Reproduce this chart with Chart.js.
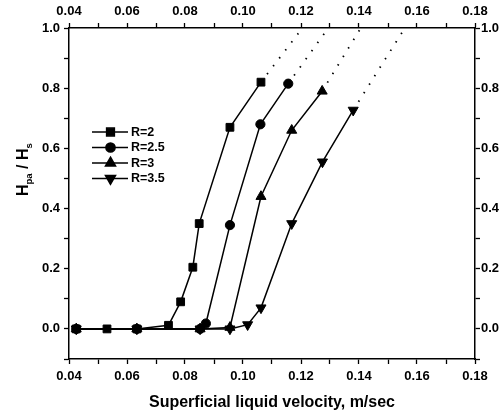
<!DOCTYPE html>
<html>
<head>
<meta charset="utf-8">
<script src="https://cdn.jsdelivr.net/npm/chart.js@4/dist/chart.umd.min.js"></script>
<style>
  html, body { margin: 0; padding: 0; background: #fff; }
  #wrap { width: 503px; height: 412px; }
</style>
</head>
<body>
<div id="wrap"><canvas id="chart" width="503" height="412"></canvas></div>
<script>
'use strict';

// series (x = superficial liquid velocity, y = Hpa/Hs)
var seriesNames = ['R=2', 'R=2.5', 'R=3', 'R=3.5'];

var velR2 = [0.0425, 0.0531, 0.0634, 0.0743, 0.0785, 0.0827, 0.0849, 0.0955, 0.1062];
var hR2 = [0, 0, 0, 0.012, 0.09, 0.205, 0.35, 0.67, 0.82];

var velR25 = [0.0425, 0.0634, 0.0852, 0.0872, 0.0955, 0.1060, 0.1156];
var hR25 = [0, 0, 0, 0.018, 0.345, 0.68, 0.815];

var velR3 = [0.0425, 0.0634, 0.0852, 0.0955, 0.1062, 0.1168, 0.1273];
var hR3 = [0, 0, 0, 0.005, 0.44, 0.66, 0.79];

var velR35 = [0.0425, 0.0634, 0.0852, 0.0955, 0.1016, 0.1062, 0.1168, 0.1274, 0.1380];
var hR35 = [0, 0, 0, 0, 0.014, 0.07, 0.35, 0.555, 0.727];

// where the dotted extrapolation of each series meets the top of the plot
var dottedEndX = [0.1205, 0.1294, 0.1406, 0.1558];
var dottedEndY = [1.0, 1.0, 1.0, 1.0];

var xTicks = { min: 0.04, max: 0.18, step: 0.01 };
var yTicks = { min: -0.1, max: 1.0, step: 0.1 };

var allX = [velR2, velR25, velR3, velR35];
var allY = [hR2, hR25, hR3, hR35];
var markers = [
  { style: 'rect', radius: 5.5, rotation: 0 },
  { style: 'circle', radius: 4.6, rotation: 0 },
  { style: 'triangle', radius: 5.8, rotation: 0 },
  { style: 'triangle', radius: 5.8, rotation: 180 }
];

var FONT = '"Liberation Sans", Arial, sans-serif';

function toPoints(xs, ys) {
  var pts = [];
  for (var i = 0; i < xs.length; i++) {
    pts.push({ x: xs[i], y: ys[i] });
  }
  return pts;
}

var datasets = [];
for (var i = 0; i < seriesNames.length; i++) {
  var last = allX[i].length - 1;
  datasets.push({
    label: seriesNames[i] + ' extrapolated',
    data: [
      { x: allX[i][last], y: allY[i][last] },
      { x: dottedEndX[i], y: dottedEndY[i] }
    ],
    borderColor: '#000',
    borderWidth: 1.8,
    borderDash: [1.5, 8.5],
    pointRadius: 0,
    fill: false
  });
}
for (var i = 0; i < seriesNames.length; i++) {
  datasets.push({
    label: seriesNames[i],
    data: toPoints(allX[i], allY[i]),
    borderColor: '#000',
    backgroundColor: '#000',
    borderWidth: 1.5,
    pointStyle: markers[i].style,
    pointRadius: markers[i].radius,
    pointRotation: markers[i].rotation,
    pointBackgroundColor: '#000',
    pointBorderColor: '#000',
    pointBorderWidth: 1,
    fill: false
  });
}

function xLabel(value) {
  var v = Math.round(value * 100);
  if (v % 2 !== 0) return '';
  return (v / 100).toFixed(2);
}

function yLabel(value) {
  var v = Math.round(value * 10);
  if (v % 2 !== 0) return '';
  return (v / 10).toFixed(1);
}

function axis(position, cb, range, size, pad) {
  var horizontal = position === 'top' || position === 'bottom';
  return {
    type: 'linear',
    position: position,
    min: range.min,
    max: range.max,
    ticks: {
      stepSize: range.step,
      callback: cb,
      autoSkip: false,
      maxRotation: 0,
      color: '#000',
      padding: pad,
      font: { family: FONT, size: 13, weight: 'bold' }
    },
    grid: {
      drawOnChartArea: false,
      drawTicks: true,
      tickLength: 5,
      tickColor: '#000',
      tickWidth: 1.3,
      color: '#000'
    },
    border: { display: true, color: '#000', width: 1.5 },
    afterFit: function (scale) {
      if (horizontal) scale.height = size;
      else scale.width = size;
    }
  };
}

// legend drawn as  —■— R=2  inside the plot
var legendPlugin = {
  id: 'lineLegend',
  afterDraw: function (chart) {
    var c = chart.ctx;
    var rows = [132, 147.5, 163, 178.5];
    c.save();
    for (var i = 0; i < seriesNames.length; i++) {
      var y = rows[i];
      c.strokeStyle = '#000';
      c.lineWidth = 1.5;
      c.beginPath();
      c.moveTo(92, y);
      c.lineTo(128, y);
      c.stroke();
      c.fillStyle = '#000';
      Chart.helpers.drawPoint(c, {
        pointStyle: markers[i].style,
        radius: markers[i].radius,
        rotation: markers[i].rotation,
        borderWidth: 1
      }, 110.5, y);
      c.fillStyle = '#000';
      c.font = 'bold 12.5px ' + FONT;
      c.textBaseline = 'middle';
      c.textAlign = 'left';
      c.fillText(seriesNames[i], 131, y + 0.5);
    }
    c.restore();
  }
};

// axis titles (the y title needs real subscripts)
var titlePlugin = {
  id: 'axisTitles',
  afterDraw: function (chart) {
    var c = chart.ctx;
    var area = chart.chartArea;
    c.save();
    c.fillStyle = '#000';
    c.textBaseline = 'alphabetic';
    c.textAlign = 'center';
    c.font = 'bold 16px ' + FONT;
    c.fillText('Superficial liquid velocity, m/sec', (area.left + area.right) / 2, 407);

    c.translate(28, 196);
    c.rotate(-Math.PI / 2);
    c.textAlign = 'left';
    var parts = [
      { t: 'H', size: 16, dy: 0 },
      { t: 'pa', size: 9.5, dy: 3.5 },
      { t: ' / H', size: 16, dy: 0 },
      { t: 's', size: 9.5, dy: 3.5 }
    ];
    var x = 0;
    for (var i = 0; i < parts.length; i++) {
      c.font = 'bold ' + parts[i].size + 'px ' + FONT;
      c.fillText(parts[i].t, x, parts[i].dy);
      x += c.measureText(parts[i].t).width;
    }
    c.restore();
  }
};

var ctx = document.getElementById('chart').getContext('2d');

new Chart(ctx, {
  type: 'line',
  data: { datasets: datasets },
  options: {
    responsive: false,
    animation: false,
    parsing: true,
    layout: { padding: 0 },
    plugins: {
      legend: { display: false },
      tooltip: { enabled: false }
    },
    scales: {
      x: axis('bottom', xLabel, xTicks, 53, 5),
      x2: axis('top', xLabel, xTicks, 28, 4),
      y: axis('left', yLabel, yTicks, 69, 4),
      y2: axis('right', yLabel, yTicks, 28, 1)
    }
  },
  plugins: [legendPlugin, titlePlugin]
});
</script>
</body>
</html>
